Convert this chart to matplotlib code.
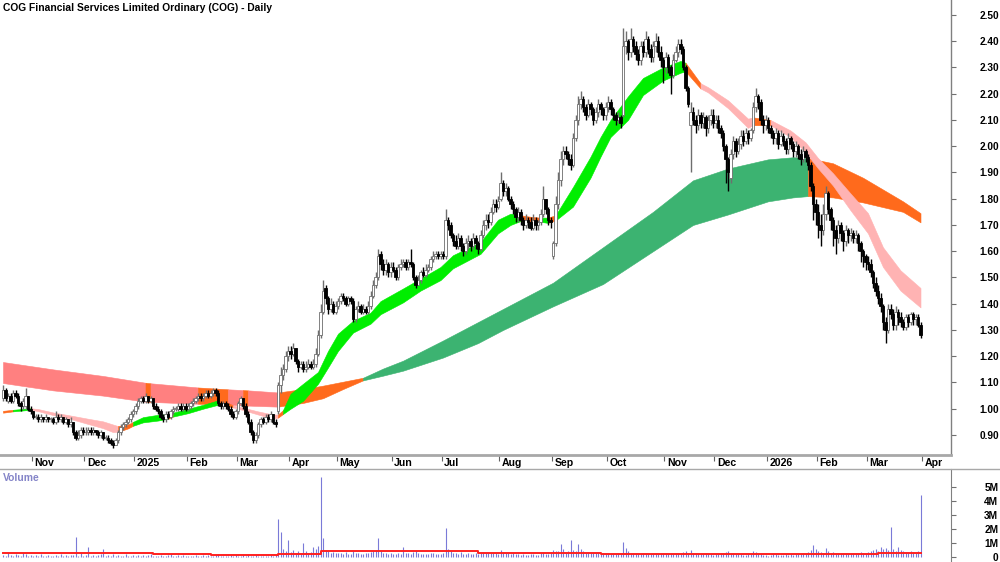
import numpy as np
import matplotlib
matplotlib.use('Agg')
import matplotlib.pyplot as plt
from matplotlib.lines import Line2D

plt.rcParams['font.family'] = ['Liberation Sans', 'DejaVu Sans']

TITLE = "COG Financial Services Limited Ordinary (COG) - Daily"
month_labels = ['Nov', 'Dec', '2025', 'Feb', 'Mar', 'Apr', 'May', 'Jun', 'Jul', 'Aug',
                'Sep', 'Oct', 'Nov', 'Dec', '2026', 'Feb', 'Mar', 'Apr']
# trading days per month: Oct-24 (partial), Nov-24 ... Mar-26
month_days = [12, 21, 20, 21, 20, 21, 19, 22, 20, 23, 21, 22, 23, 20, 21, 20, 20, 22]

# daily prices in cents
opens = [
    104,107,103,105,103,106,105,102,101,101,105,100,
    99,97,97,96,97,96,97,96,96,95,97,96,97,95,96,94,95,91,89,90,92,
    91,91,92,91,92,91,90,91,89,89,88,87,86,88,91,93,94,95,96,98,
    99,101,103,104,103,105,103,104,101,100,99,97,96,98,97,99,100,100,101,100,101,
    100,101,102,103,104,105,104,105,106,105,106,107,106,102,101,102,101,100,98,97,
    99,102,104,101,98,95,91,88,90,94,96,95,97,96,98,95,99,109,113,115,120,
    122,121,123,118,116,117,115,116,117,116,117,121,128,137,146,142,138,140,137,
    139,141,143,142,140,142,141,134,138,139,137,138,137,139,143,147,150,159,155,153,155,152,
    154,153,150,154,155,156,154,156,155,150,147,149,152,151,153,154,157,158,159,158,
    159,158,172,170,166,164,162,165,162,160,163,164,162,165,163,161,166,170,172,171,175,178,177,
    180,186,183,184,180,178,176,173,175,172,170,172,171,169,172,170,171,174,180,176,172,
    158,163,178,187,195,198,197,195,193,203,210,216,218,215,212,216,214,210,213,216,214,212,
    215,217,214,212,210,211,212,238,240,236,241,238,235,233,238,236,241,237,234,238,240,236,233,
    230,234,230,227,233,236,239,237,230,222,208,213,210,208,212,209,211,207,210,212,
    209,210,207,205,200,195,188,197,202,198,201,204,202,205,203,206,215,219,217,210,208,
    210,207,205,203,205,201,204,202,199,203,201,198,200,197,195,198,196,193,185,178,
    175,170,168,174,182,176,172,168,165,170,167,164,168,166,167,165,166,163,160,158,
    156,155,152,148,145,142,139,133,130,138,136,132,137,135,133,131,135,133,136,134,135,132,
]
highs = [
    109,108,106,106,107,107,106,103,104,108,105,101,
    99,98,98,98,97,98,97,97,97,99,98,98,97,97,96,97,95,92,92,93,93,
    93,93,93,93,92,92,92,91,90,90,89,88,89,92,94,95,96,97,99,100,
    102,104,105,105,106,105,105,104,102,101,100,98,99,99,100,101,101,102,102,102,102,
    102,103,104,105,106,106,106,107,107,107,108,108,107,103,103,103,102,101,99,100,
    103,105,104,102,99,96,92,91,95,97,97,98,98,99,98,96,110,116,117,122,124,
    124,125,123,119,118,118,118,119,118,119,123,130,140,149,147,143,142,141,141,
    142,144,144,143,143,143,142,139,141,140,140,139,141,145,149,152,161,160,157,157,156,156,
    156,154,155,157,157,157,157,161,156,151,151,153,154,155,155,158,160,160,160,160,
    160,176,173,171,167,166,167,166,163,165,166,165,167,166,164,168,172,174,174,177,180,180,181,
    190,187,186,185,181,179,177,177,176,173,174,173,173,174,173,172,176,185,180,177,173,
    164,181,190,198,200,200,198,197,205,212,219,221,219,216,218,217,215,215,218,217,215,217,
    219,218,215,213,213,212,245,244,241,245,242,240,237,240,240,244,242,239,240,243,242,238,234,
    236,235,231,235,238,241,241,238,231,223,217,215,212,214,213,213,212,212,214,214,
    212,212,208,206,201,196,199,204,203,203,206,206,207,206,207,217,222,220,218,212,212,
    211,208,206,207,206,206,205,203,205,204,202,202,201,199,200,199,197,194,186,180,
    178,174,178,185,183,177,173,170,172,171,168,170,169,169,168,168,167,164,161,159,
    158,157,153,150,147,144,140,135,140,140,138,139,138,137,134,136,136,137,137,136,136,133,
]
lows = [
    103,103,102,102,102,104,101,99,100,100,99,98,
    96,96,95,95,95,95,95,95,94,94,95,95,94,94,93,93,90,88,88,89,90,
    90,90,90,90,90,89,89,88,88,87,86,85,86,87,90,92,93,94,95,97,
    98,100,102,102,102,102,102,100,99,98,96,95,95,96,96,98,99,99,99,99,99,
    99,100,101,102,103,103,103,104,104,104,105,105,101,100,100,100,99,97,96,96,
    98,101,100,97,94,90,87,87,89,93,94,94,95,95,94,93,98,106,111,114,118,
    119,120,117,114,115,114,114,115,115,115,116,120,127,136,140,136,137,136,136,
    138,140,141,139,139,140,133,133,137,136,136,136,136,138,142,146,149,153,151,151,150,150,
    152,149,149,153,154,153,153,154,149,146,147,148,150,150,152,153,156,157,157,157,
    157,157,168,165,162,161,161,160,158,159,161,160,161,161,159,160,165,168,169,170,174,175,176,
    179,181,181,179,176,174,171,171,170,168,169,169,168,168,168,168,170,173,174,170,169,
    157,162,176,185,193,195,193,191,192,202,208,214,213,210,211,212,208,209,211,212,210,210,
    213,212,210,208,209,207,211,235,233,234,236,233,231,231,234,234,235,232,232,236,234,230,224,
    228,228,220,226,232,234,235,229,221,215,190,208,205,206,207,207,204,205,208,207,
    207,205,203,198,186,183,186,195,196,197,199,200,201,201,202,205,213,214,208,205,206,
    205,203,201,201,199,200,200,197,197,199,196,196,195,193,194,194,191,183,172,170,
    165,162,166,172,174,168,162,159,163,164,160,162,163,164,163,163,160,156,154,153,
    153,150,146,143,140,137,130,125,129,134,130,130,132,131,130,130,131,132,132,132,131,127,
]
closes = [
    107,104,105,103,106,105,102,101,103,105,100,99,
    97,97,96,97,96,97,96,96,95,97,96,97,95,96,94,95,91,89,90,92,91,
    91,92,91,92,91,90,91,89,89,88,87,86,88,91,93,94,95,96,98,99,
    101,103,104,103,105,103,104,101,100,99,97,96,98,97,99,100,100,101,100,101,100,
    101,102,103,104,105,104,105,106,105,106,107,106,102,101,102,101,100,98,97,99,
    102,104,101,98,95,91,88,90,94,96,95,97,96,98,95,94,109,113,115,120,122,
    121,123,118,116,117,115,116,117,116,117,121,128,137,145,142,138,140,137,139,
    141,143,142,140,142,141,134,138,139,137,138,137,139,143,147,150,158,155,153,155,152,154,
    153,150,154,155,156,154,156,155,150,147,149,152,151,153,154,157,158,159,158,159,
    158,172,170,166,164,162,165,162,160,163,164,162,165,163,161,166,170,172,171,175,178,177,179,
    186,183,184,180,178,176,173,175,172,170,172,171,169,172,170,171,174,180,176,172,171,
    163,178,187,195,198,197,195,193,203,210,216,218,215,212,216,214,210,213,216,214,212,215,
    217,214,212,210,211,209,238,240,236,241,238,235,233,238,236,241,237,234,238,240,236,233,230,
    234,230,227,233,236,239,237,230,222,216,213,210,208,212,209,211,207,210,212,209,
    210,207,205,200,195,190,197,202,198,201,204,202,205,203,206,215,219,217,210,208,210,
    207,205,203,205,201,204,202,199,203,201,198,200,197,195,198,196,193,185,178,175,
    170,168,174,182,176,172,168,165,170,167,164,168,166,167,165,166,163,160,158,156,
    155,152,148,145,142,139,133,130,138,136,132,137,135,133,131,135,133,136,134,135,132,128,
]
# daily volume, thousands of shares
volume = [
    150,90,300,120,80,200,110,60,250,180,90,140,
    80,120,60,200,90,70,150,100,60,130,80,220,90,110,70,160,120,1440,90,250,100,
    130,730,90,150,70,110,200,570,80,120,60,180,90,140,70,100,210,80,60,120,
    90,150,70,110,60,130,180,80,100,60,140,90,70,110,200,80,60,120,90,150,70,
    60,100,80,130,70,90,150,60,110,80,70,120,200,90,60,100,80,140,70,110,
    80,60,110,70,150,90,60,120,80,70,100,60,90,130,70,110,2720,1800,600,450,1200,
    350,500,300,400,250,1000,450,300,350,700,600,800,5700,1350,500,400,300,350,250,
    300,250,200,350,180,220,400,300,250,200,180,260,300,350,450,500,1350,400,300,250,200,280,
    220,180,250,200,730,300,250,200,350,400,260,200,180,240,200,260,300,220,180,200,
    300,2050,600,400,300,250,200,350,220,180,260,200,240,300,220,260,350,300,250,280,300,250,200,
    500,350,300,250,200,260,220,180,150,200,160,140,180,200,150,160,300,350,200,180,250,
    500,400,450,920,600,350,400,1200,500,450,900,600,400,300,350,250,300,280,250,200,300,250,
    250,200,220,180,250,200,1100,650,400,300,250,280,200,220,250,300,200,180,220,260,200,250,300,
    250,220,300,200,250,300,220,350,400,300,500,300,250,200,180,220,250,200,180,160,
    180,200,250,300,350,400,300,250,200,180,200,160,150,200,180,400,350,250,200,150,120,
    100,150,180,200,150,160,140,180,150,200,160,180,220,200,250,300,350,500,850,600,
    400,350,300,620,400,300,350,250,300,280,250,300,220,250,300,280,250,350,300,280,
    350,400,500,600,450,700,550,650,500,2100,600,400,700,500,400,350,300,450,350,300,400,4400,
]
# volume average line (millions), read at day indices
vol_ma_idx = [0, 30, 60, 83, 101, 110, 114, 127, 150, 175, 190, 218, 239, 264, 290, 308, 331, 350, 367]
vol_ma = [0.27, 0.25, 0.21, 0.16, 0.11, 0.20, 0.24, 0.42, 0.46, 0.40, 0.27, 0.30, 0.24, 0.24, 0.23, 0.18, 0.21, 0.25, 0.30]

# short-term moving-average band (edges read at day indices)
sb_idx = [0,4,11,14,20,26,34,40,44,46,50,52,56,62,66,68,74,80,86,90,92,96,102,108,110,112,115,120,126,130,
          134,140,147,151,160,167,175,180,191,198,203,207,212,215,218,221,228,235,239,243,250,256,264,271,273,
          279,282,290,298,300,307,315,321,326,332,339,346,352,359,367]
sb_hi = [0.992,0.996,1.002,0.999,0.986,0.976,0.962,0.952,0.940,0.934,0.940,0.950,0.968,0.977,0.979,0.985,1.000,
         1.015,1.032,1.022,1.013,1.004,0.990,0.978,0.978,0.995,1.057,1.095,1.140,1.220,1.286,1.335,1.366,1.410,
         1.458,1.496,1.540,1.585,1.635,1.720,1.743,1.737,1.730,1.728,1.728,1.737,1.845,1.960,2.035,2.100,2.190,
         2.260,2.300,2.325,2.318,2.240,2.225,2.175,2.105,2.110,2.100,2.060,2.015,1.955,1.897,1.820,1.745,1.615,
         1.527,1.460]
sb_lo = [0.985,0.990,0.996,0.991,0.976,0.964,0.942,0.926,0.911,0.912,0.925,0.935,0.948,0.955,0.962,0.970,0.983,
         1.000,1.015,1.010,1.005,0.995,0.978,0.962,0.966,0.980,1.000,1.030,1.095,1.157,1.220,1.290,1.324,1.360,
         1.405,1.450,1.490,1.535,1.590,1.668,1.700,1.715,1.712,1.712,1.708,1.717,1.770,1.880,1.960,2.035,2.100,
         2.195,2.250,2.280,2.285,2.220,2.205,2.145,2.070,2.080,2.080,2.035,1.977,1.916,1.850,1.756,1.668,1.540,
         1.450,1.386]
sb_segments = [(0, 4, 'o'), (4, 11, 'g'), (11, 46, 'p'), (46, 52, 'o'), (52, 66, 'g'), (66, 68, 'o'),
               (68, 86, 'g'), (86, 92, 'o'), (92, 110, 'p'), (110, 112, 'o'), (112, 207, 'g'), (207, 215, 'o'),
               (215, 218, 'g'), (218, 221, 'o'), (221, 273, 'g'), (273, 279, 'o'), (279, 300, 'p'),
               (300, 307, 'o'), (307, 367, 'p')]

# long-term moving-average band
lb_idx = [0,20,40,57,59,78,90,96,98,110,120,128,136,144,152,160,176,190,200,220,240,260,276,290,306,316,322,
          332,344,360,367]
lb_hi = [1.178,1.150,1.125,1.099,1.097,1.081,1.074,1.071,1.070,1.062,1.075,1.088,1.103,1.118,1.153,1.183,1.260,
         1.330,1.380,1.480,1.615,1.750,1.870,1.915,1.950,1.958,1.955,1.935,1.880,1.790,1.745]
lb_lo = [1.098,1.070,1.050,1.027,1.026,1.019,1.015,1.013,1.012,1.008,1.022,1.040,1.075,1.108,1.126,1.145,1.195,
         1.250,1.300,1.390,1.475,1.600,1.700,1.740,1.790,1.805,1.810,1.805,1.786,1.750,1.710]
lb_segments = [(0, 57, 's'), (57, 59, 'o'), (59, 78, 's'), (78, 90, 'o'), (90, 96, 's'), (96, 98, 'o'),
               (98, 110, 's'), (110, 144, 'o'), (144, 322, 'G'), (322, 367, 'o')]

band_colors = {'g': '#00ee00', 'p': '#ffb3b3', 'o': '#ff6a1c', 's': '#ff8080', 'G': '#3cb371'}

# ---------------------------------------------------------------- layout
W, H = 1000, 562
fig = plt.figure(figsize=(W / 100, H / 100), dpi=100)


def rect(x0, y0, x1, y1):
    return [x0 / W, 1 - y1 / H, (x1 - x0) / W, (y1 - y0) / H]


AX_R = 951
ax = fig.add_axes(rect(0, 0, AX_R, 455))
axd = fig.add_axes(rect(0, 455, AX_R, 469))
axv = fig.add_axes(rect(0, 469, AX_R, 562))

n = min(len(opens), len(highs), len(lows), len(closes), len(volume))
o = np.array(opens[:n]) / 100.0
h = np.array(highs[:n]) / 100.0
l = np.array(lows[:n]) / 100.0
c = np.array(closes[:n]) / 100.0
h = np.maximum(h, np.maximum(o, c))
l = np.minimum(l, np.minimum(o, c))
x = np.arange(n)
XMIN, XMAX = -1.2, 379.2

for a in (ax, axd, axv):
    a.set_xlim(XMIN, XMAX)
    a.set_facecolor('white')
    for s in ('left', 'top', 'bottom'):
        a.spines[s].set_visible(False)
    a.set_xticks([])


def draw_band(a, idx, hi, lo, segs, z):
    idx = np.asarray(idx, float)
    hi = np.asarray(hi)
    lo = np.asarray(lo)
    for s, e, col in segs:
        m = (idx >= s) & (idx <= e)
        a.fill_between(idx[m], lo[m], hi[m], color=band_colors[col], lw=0.4,
                       edgecolor=band_colors[col], zorder=z)


draw_band(ax, lb_idx, lb_hi, lb_lo, lb_segments, 1)
draw_band(ax, sb_idx, sb_hi, sb_lo, sb_segments, 2)

# candles
up = c >= o
UPC = '#6e6e6e'
wick_col = np.where(up, UPC, '#000000')
ax.vlines(x, l, h, colors=wick_col, lw=1.0, zorder=3)
body_bot = np.minimum(o, c)
body_h = np.maximum(np.abs(c - o), 0.003)
ax.bar(x[up], body_h[up], bottom=body_bot[up], width=0.9, color='white',
       edgecolor=UPC, linewidth=0.6, zorder=4)
ax.bar(x[~up], body_h[~up], bottom=body_bot[~up], width=0.9, color='black',
       edgecolor='black', linewidth=0.6, zorder=4)

ax.set_ylim(0.8238, 2.557)
ax.yaxis.tick_right()
yt = np.round(np.arange(0.9, 2.501, 0.1), 2)
ax.set_yticks(yt)
ax.set_yticklabels([f"{v:.2f}" for v in yt])
ax.tick_params(axis='y', direction='out', length=3.5, width=0.8, color='#707070',
               pad=16.8, labelsize=7.3)
for lab in ax.get_yticklabels():
    lab.set_fontweight('bold')
ax.spines['right'].set_color('#808080')
ax.spines['right'].set_linewidth(1.0)

ax.text(3 / AX_R, 1 - 8 / 455, TITLE, transform=ax.transAxes, ha='left', va='center',
        fontsize=7.4, fontweight='bold', color='black')

# date band
axd.set_ylim(0, 1)
axd.set_yticks([])
axd.spines['right'].set_visible(False)
axd.spines['top'].set_visible(True)
axd.spines['top'].set_color('#a8a8a8')
axd.spines['top'].set_linewidth(2.0)
starts = np.cumsum([0] + month_days)[1:]
for pos, lab in zip(starts, month_labels):
    tx = pos - 0.5
    axd.vlines(tx, 0.55, 1.0, colors='#606060', lw=0.8)
    axd.text(tx + 1.0, 0.42, lab, ha='left', va='center', fontsize=7.6, fontweight='bold',
             color='black')

fig.add_artist(Line2D([0, 1], [1 - 469 / H, 1 - 469 / H], transform=fig.transFigure,
                      color='#a8a8a8', lw=1.0))

# volume
v = np.array(volume[:n]) / 1000.0
axv.vlines(x, 0, v, colors='#7a7ad8', lw=0.8, zorder=2)
axv.plot(vol_ma_idx, vol_ma, drawstyle='steps-post', color='#ff2020', lw=1.4, zorder=3)
axv.set_ylim(-0.356, 6.26)
axv.yaxis.tick_right()
axv.set_yticks([0, 1, 2, 3, 4, 5])
axv.set_yticklabels(['0', '1M', '2M', '3M', '4M', '5M'])
axv.tick_params(axis='y', direction='out', length=3.5, width=0.8, color='#707070',
                pad=30.5, labelsize=7.3)
for lab in axv.get_yticklabels():
    lab.set_fontweight('bold')
    lab.set_horizontalalignment('right')
axv.spines['right'].set_color('#808080')
axv.text(3 / AX_R, 1 - 9 / 93, 'Volume', transform=axv.transAxes, ha='left', va='center',
         fontsize=7.4, fontweight='bold', color='#8484c8')

fig.savefig('out.png', dpi=100)
